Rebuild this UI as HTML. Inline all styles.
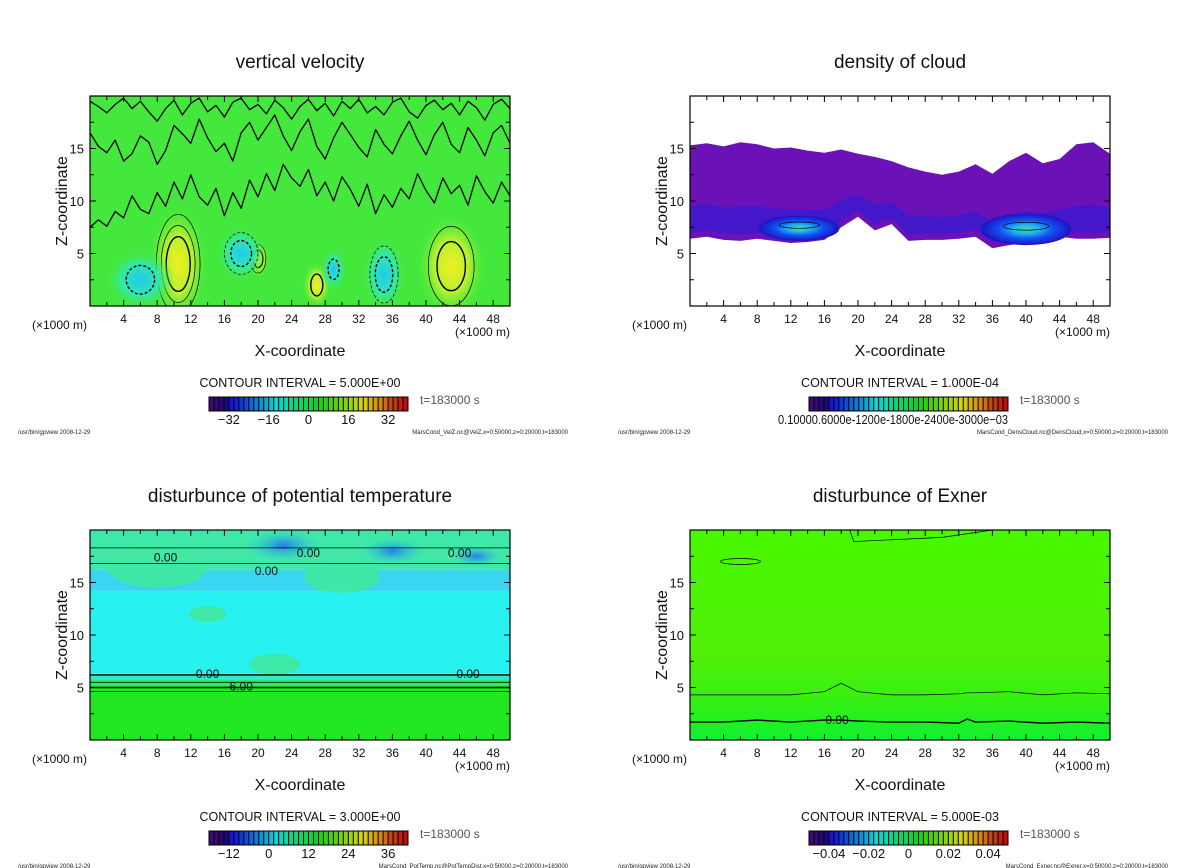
<!DOCTYPE html>
<html><head><meta charset="utf-8">
<style>
html,body{margin:0;padding:0;background:#fff;}
svg{display:block;font-family:"Liberation Sans","DejaVu Sans",sans-serif;}
</style></head>
<body>
<svg id="root" width="1200" height="868" viewBox="0 0 1200 868" xmlns="http://www.w3.org/2000/svg">
<defs>
<radialGradient id="gYel"><stop offset="0" stop-color="#f0f020"/><stop offset="0.5" stop-color="#b8f030"/><stop offset="1" stop-color="#44e83c" stop-opacity="0"/></radialGradient>
<radialGradient id="gCy"><stop offset="0" stop-color="#20c8f0"/><stop offset="0.5" stop-color="#30e8b0"/><stop offset="1" stop-color="#44e83c" stop-opacity="0"/></radialGradient>
<radialGradient id="gCloud"><stop offset="0" stop-color="#30e8a0"/><stop offset="0.3" stop-color="#20b0f0"/><stop offset="0.6" stop-color="#1050f0"/><stop offset="1" stop-color="#2010c0"/></radialGradient>
<radialGradient id="gBlue"><stop offset="0" stop-color="#2070f0"/><stop offset="1" stop-color="#30c0f0" stop-opacity="0"/></radialGradient>
<linearGradient id="gEx" x1="0" y1="1" x2="0" y2="0"><stop offset="0" stop-color="#10f030"/><stop offset="0.2" stop-color="#38f010"/><stop offset="0.4" stop-color="#50f008"/><stop offset="1" stop-color="#48f800"/></linearGradient>
<clipPath id="clipBox"><rect x="90" y="96" width="420" height="210"/></clipPath>
</defs>
</svg>
<script>
// ---- data ----
var xTicks=[4,8,12,16,20,24,28,32,36,40,44,48];
var zTicks=[5,10,15];
var vvX=[10.5,43,27,20,6,18,35,29];
var vvZ=[4,3.8,2,4.5,2.5,5,3,3.5];
var vvAmp=[30,20,8,12,-10,-15,-22,-6];
var vvRx=[2.2,2.6,1.1,0.9,2.6,1.9,1.6,1.0];
var vvRz=[4,3.6,1.6,1.3,2.1,1.9,2.6,1.5];
var vvLineX=[0,1,2,3,4,5,6,7,8,9,10,11,12,13,14,15,16,17,18,19,20,21,22,23,24,25,26,27,28,29,30,31,32,33,34,35,36,37,38,39,40,41,42,43,44,45,46,47,48,49,50];
var vvLineZ=[7.5,8.2,7.6,9,8.4,10.5,9.2,8.8,10.8,9.5,11.8,10.2,12.5,10.4,9.6,11.2,8.6,10.8,9.3,12,10.4,12.6,11,13.5,12.2,11.4,13,10.5,11.8,10,12.3,11.1,9.5,11.6,8.8,10.6,9.4,11.2,10.2,12.6,11,9.8,12.2,10.7,11.5,9.6,12.4,10.9,9.8,11.8,10.5];
var vvLine2Z=[16.5,15.2,14.6,15.8,13.8,14.5,16.2,15.6,13.5,14.8,17.2,16.4,15.5,17.8,16,14.7,15.5,13.8,16.5,17.5,15.8,17,18.2,16.2,14.8,16.6,17.8,15.2,14,16,17.5,16.3,15.1,14.2,16.8,15.4,14.5,16.2,17.6,15.8,14.4,16.3,17.5,15.4,14.6,17,15.8,14.3,16.5,17.2,15.5];
var vvLine3Z=[19.5,19,18.4,19.2,19.8,18.8,19.5,18.5,17.6,18.8,19.6,18.2,19.3,19.8,18.5,19.1,18,19.4,19.8,18.7,19.2,18.3,19.6,18.9,17.8,19,19.7,18.6,19.3,18.1,19.5,18.8,19.7,18.4,19,18.2,19.4,19.8,18.5,17.9,19.1,19.6,18.7,19.3,18.2,19.5,18.9,17.7,19.2,19.7,18.8];
var clX=[0,2,4,6,8,10,12,14,16,18,20,22,24,26,28,30,32,34,36,38,40,42,44,46,48,50];
var clTop=[15.3,15.5,15.2,15.6,15.4,15,15.1,14.8,14.6,14.9,14.5,14.2,13.8,13.2,12.8,12.5,12.8,13.5,12.6,13.8,14.6,13.6,14.0,15.4,15.6,14.5];
var clBot=[6.4,6.6,6.3,6.2,6.4,6.2,6.0,6.1,6.3,7.5,8.5,7.2,7.8,6.2,6.3,6.3,6.4,6.6,5.5,5.8,6.0,6.3,6.6,6.4,6.4,6.5];
var clCoreX=[13,40];
var clCoreZ=[7.4,7.3];
var clCoreRx=[4.8,5.4];
var clCoreRz=[1.2,1.5];
var ptBandZ=[0,5.2,5.8,6.3,14.2,16.2,20];
var ptBandC=["#22e822","#30e870","#30ecc8","#28f2f0","#38d6f0","#40e8a8"];
var ptLineZ=[[4.6],[5.0],[5.5],[6.2],[16.8],[18.3]];
var ptBlobX=[23,36,46,14,22,8,30];
var ptBlobZ=[18.5,18,17.5,12,7.2,16.5,15.5];
var ptBlobR=[3,2.5,2,1.5,2,4,3];
var exLineX=[0,4,8,12,16,18,20,24,28,32,33,34,38,42,46,50];
var exLine1=[1.7,1.7,1.9,1.7,1.9,1.9,1.8,1.7,1.7,1.6,2.0,1.7,1.8,1.6,1.7,1.6];
var exLine2=[4.3,4.3,4.3,4.3,4.6,5.4,4.6,4.3,4.3,4.4,4.5,4.5,4.6,4.3,4.5,4.4];
var cbLabels1=["-32","-16","0","16","32"];
var cbValues1=[-32,-16,0,16,32];
var cbLabels3=["-12","0","12","24","36"];
var cbValues3=[-12,0,12,24,36];
var cbLabels4=["-0.04","-0.02","0","0.02","0.04"];
var cbValues4=[-0.04,-0.02,0,0.02,0.04];

var NS="http://www.w3.org/2000/svg";
var root=document.getElementById('root');
function mk(tag,at,parent){var e=document.createElementNS(NS,tag);for(var k in at)e.setAttribute(k,at[k]);(parent||root).appendChild(e);return e;}

function panel(ox,oy,key,title,ci,cbL,cbV,cbMin,cbMax,footer){
  var g=mk('g',{transform:'translate('+ox+','+oy+')'});
  
  
  function X(v){return 90+v/50*420;}
  function Z(v){return 306-v/20*210;}
  var t=mk('text',{x:300,y:68,'text-anchor':'middle','font-size':19,fill:'#111'},g);t.textContent=title;
  
  
  var plot=mk('g',{'clip-path':'url(#clipBox)'},g);
  
  
  return {g:g,plot:plot,X:X,Z:Z,finish:function(){
    var b=mk('rect',{x:90,y:96,width:420,height:210,fill:'none',stroke:'#000','stroke-width':1.2},g);
    
    
    for(var v=2;v<50;v+=2){var l=(v%4==0)?6:4;
      mk('line',{x1:X(v),x2:X(v),y1:306,y2:306-l,stroke:'#000'},g);
      mk('line',{x1:X(v),x2:X(v),y1:96,y2:96+l,stroke:'#000'},g);}
    for(var z=2.5;z<20;z+=2.5){var l2=(z%5==0)?6:4;
      mk('line',{x1:90,x2:90+l2,y1:Z(z),y2:Z(z),stroke:'#000'},g);
      mk('line',{x1:510,x2:510-l2,y1:Z(z),y2:Z(z),stroke:'#000'},g);}
    xTicks.forEach(function(v){var tt=mk('text',{x:X(v),y:323,'text-anchor':'middle','font-size':12,fill:'#111'},g);tt.textContent=v;
      
      });
    zTicks.forEach(function(v){var tt=mk('text',{x:84,y:Z(v)+5,'text-anchor':'end','font-size':13,fill:'#111'},g);tt.textContent=v;
      
      });
    var u1=mk('text',{x:32,y:329,'font-size':12,fill:'#111'},g);u1.textContent='(\u00d71000 m)';
    
    
    var u2=mk('text',{x:455,y:336,'font-size':12,fill:'#111'},g);u2.textContent='(\u00d71000 m)';
    
    
    var xl=mk('text',{x:300,y:356,'text-anchor':'middle','font-size':16,fill:'#111'},g);xl.textContent='X-coordinate';
    
    
    var yl=mk('text',{x:0,y:0,'text-anchor':'middle','font-size':16,fill:'#111',transform:'translate(67,201) rotate(-90)'},g);yl.textContent='Z-coordinate';
    
    
    var c=mk('text',{x:300,y:387,'text-anchor':'middle','font-size':12.5,fill:'#111'},g);c.textContent='CONTOUR INTERVAL = '+ci;
    
    
    var ts=mk('text',{x:420,y:404,'font-size':12,fill:'#555'},g);ts.textContent='t=183000 s';
    
    
    var cb=mk('g',{},g);
    
    
    var n=40,w=199/n;
    for(var i=0;i<n;i++){var f=i/(n-1);var h=270-f*270;var light=(f<0.08)?25:(f>0.92?40:45);
      mk('rect',{x:209+i*w,y:397,width:w+0.3,height:14,fill:'hsl('+h+',85%,'+light+'%)'},cb);
      mk('line',{x1:209+i*w,x2:209+i*w,y1:397,y2:411,stroke:'#000','stroke-width':1}, cb);}
    mk('rect',{x:209,y:397,width:199,height:14,fill:'none',stroke:'#000'},cb);
    if(cbL){cbL.forEach(function(s,i){var px=209+(cbV[i]-cbMin)/(cbMax-cbMin)*199;
      var tt=mk('text',{x:px,y:424,'text-anchor':'middle','font-size':13,fill:'#111'},cb);tt.textContent=s.replace('-','\u2212');
      
      });}
    var f1=mk('text',{x:18,y:434,'font-size':6,fill:'#222'},g);f1.textContent='/usr/bin/gpview   2008-12-29';
    
    
    var f2=mk('text',{x:568,y:434,'text-anchor':'end','font-size':6,fill:'#222'},g);f2.textContent=footer;
    
    
  }};
}
function linePath(X,Z,xs,zs){var d='';for(var i=0;i<xs.length;i++)d+=(i?'L':'M')+X(xs[i]).toFixed(1)+','+Z(zs[i]).toFixed(1);return d;}

// Panel 1
var p=panel(0,0,'vertical-velocity','vertical velocity','5.000E+00',cbLabels1,cbValues1,-40,40,'MarsCond_VelZ.nc@VelZ,x=0:50000,z=0:20000,t=183000');
mk('rect',{x:90,y:96,width:420,height:210,fill:'#44e83c'},p.plot);
vvX.forEach(function(x,i){var e=mk('ellipse',{cx:p.X(x),cy:p.Z(vvZ[i]),rx:vvRx[i]/50*420*1.6,ry:vvRz[i]/20*210*1.4,fill:vvAmp[i]>0?'url(#gYel)':'url(#gCy)'},p.plot);
  
  
  var nl=Math.floor(Math.abs(vvAmp[i])/12)+1;
  for(var k=1;k<=nl;k++){var s=k/nl;var c=mk('ellipse',{cx:p.X(x),cy:p.Z(vvZ[i]),rx:vvRx[i]/50*420*(1.45-0.8*s),ry:vvRz[i]/20*210*(1.45-0.8*s),fill:'none',stroke:'#000','stroke-width':k==nl?1.4:0.7,'stroke-dasharray':vvAmp[i]<0?'3,2':'none'},p.plot);
    
    }
});
[vvLineZ,vvLine2Z,vvLine3Z].forEach(function(arr,j){
  var l1=mk('path',{d:linePath(p.X,p.Z,vvLineX,arr),fill:'none',stroke:'#000','stroke-width':1.3,'stroke-linejoin':'round'},p.plot);
  
  
});
p.finish();

// Panel 2
var p2=panel(600,0,'cloud-density','density of cloud','1.000E-04',null,null,0,1,'MarsCond_DensCloud.nc@DensCloud,x=0:50000,z=0:20000,t=183000');
var d='';clX.forEach(function(x,i){d+=(i?'L':'M')+p2.X(x)+','+p2.Z(clTop[i]);});
for(var i=clX.length-1;i>=0;i--)d+='L'+p2.X(clX[i])+','+p2.Z(clBot[i]);
var band=mk('path',{d:d+'Z',fill:'#6a12b8'},p2.plot);


var dm='';clX.forEach(function(x,i){dm+=(i?'L':'M')+p2.X(x)+','+p2.Z(clTop[i]*0.35+clBot[i]*0.65);});
for(var i=clX.length-1;i>=0;i--)dm+='L'+p2.X(clX[i])+','+p2.Z(clBot[i]+0.6);
var band2=mk('path',{d:dm+'Z',fill:'#3a1ad0',opacity:0.75},p2.plot);


clCoreX.forEach(function(x,i){var e=mk('ellipse',{cx:p2.X(x),cy:p2.Z(clCoreZ[i]),rx:clCoreRx[i]/50*420,ry:clCoreRz[i]/20*210,fill:'url(#gCloud)'},p2.plot);
  
  
  var c=mk('ellipse',{cx:p2.X(x),cy:p2.Z(clCoreZ[i]+0.3),rx:clCoreRx[i]/50*420*0.5,ry:clCoreRz[i]/20*210*0.25,fill:'none',stroke:'#000','stroke-width':0.7},p2.plot);
  
  });
p2.finish();
var ov=mk('text',{x:778,y:424,'font-size':13,fill:'#111',textLength:230,lengthAdjust:'spacingAndGlyphs'});ov.textContent='0.10000.6000e-1200e-1800e-2400e-3000e\u221203';



// Panel 3
var p3=panel(0,434,'potential-temperature','disturbunce of potential temperature','3.000E+00',cbLabels3,cbValues3,-18,42,'MarsCond_PotTemp.nc@PotTempDist,x=0:50000,z=0:20000,t=183000');
for(var i=0;i<ptBandC.length;i++){var r=mk('rect',{x:90,y:p3.Z(ptBandZ[i+1]),width:420,height:p3.Z(ptBandZ[i])-p3.Z(ptBandZ[i+1]),fill:ptBandC[i]},p3.plot);
  
  }
ptBlobX.forEach(function(x,i){var e=mk('ellipse',{cx:p3.X(x),cy:p3.Z(ptBlobZ[i]),rx:ptBlobR[i]/50*420*1.5,ry:ptBlobR[i]/20*210*0.5,fill:i<3?'url(#gBlue)':'#40e8a0',opacity:0.9},p3.plot);
  
  });
ptLineZ.forEach(function(z,i){var l=mk('line',{x1:90,x2:510,y1:p3.Z(z[0]),y2:p3.Z(z[0]),stroke:'#000','stroke-width':(i==1||i==3)?1.4:0.7},p3.plot);
  
  });
[[9,17.4],[21,16.1],[26,17.8],[44,17.8],[14,6.3],[45,6.3],[18,5.1]].forEach(function(q,i){var tt=mk('text',{x:p3.X(q[0]),y:p3.Z(q[1])+4,'font-size':12,fill:'#111','text-anchor':'middle'},p3.plot);tt.textContent=i==6?'6.00':'0.00';
  
  });
p3.finish();

// Panel 4
var p4=panel(600,434,'exner','disturbunce of Exner','5.000E-03',cbLabels4,cbValues4,-0.05,0.05,'MarsCond_Exner.nc@Exner,x=0:50000,z=0:20000,t=183000');
var bg=mk('rect',{x:90,y:96,width:420,height:210,fill:'url(#gEx)'},p4.plot);


var e1=mk('path',{d:linePath(p4.X,p4.Z,exLineX,exLine1),fill:'none',stroke:'#000','stroke-width':1.4},p4.plot);


var e2=mk('path',{d:linePath(p4.X,p4.Z,exLineX,exLine2),fill:'none',stroke:'#000','stroke-width':0.7},p4.plot);


var e3=mk('path',{d:'M'+p4.X(19)+','+p4.Z(20)+'L'+p4.X(19.5)+','+p4.Z(18.9)+'L'+p4.X(30)+','+p4.Z(19.3)+'L'+p4.X(36)+','+p4.Z(20),fill:'none',stroke:'#000','stroke-width':0.7},p4.plot);


var e4=mk('ellipse',{cx:p4.X(6),cy:p4.Z(17),rx:20,ry:3,fill:'none',stroke:'#000','stroke-width':0.7},p4.plot);


var z0=mk('text',{x:p4.X(17.5),y:p4.Z(1.9)+4,'font-size':12,'text-anchor':'middle',fill:'#111'},p4.plot);z0.textContent='0.00';


p4.finish();
</script>
</body></html>
